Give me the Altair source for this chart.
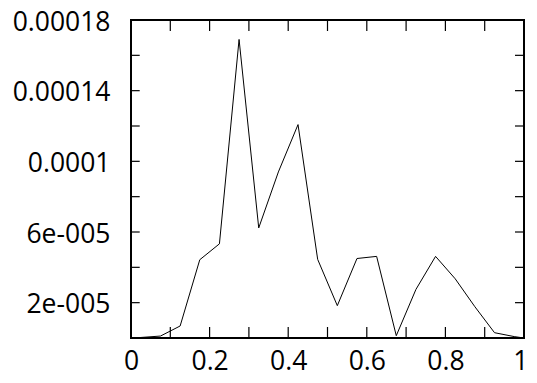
import altair as alt
import pandas as pd

# data
x_vals = [0.0, 0.025, 0.075, 0.125, 0.175, 0.225, 0.275, 0.325, 0.375, 0.425, 0.475,
          0.525, 0.575, 0.625, 0.675, 0.725, 0.775, 0.825, 0.875, 0.925, 0.975, 1.0]
y_vals = [0.0, 3e-7, 1.1e-6, 6.8e-6, 4.43e-5, 5.33e-5, 1.69e-4, 6.23e-5, 9.4e-5, 1.208e-4, 4.45e-5,
          1.83e-5, 4.5e-5, 4.62e-5, 1.3e-6, 2.75e-5, 4.62e-5, 3.35e-5, 1.77e-5, 3.0e-6, 8e-7, 0.0]

x_label_values = [0, 0.2, 0.4, 0.6, 0.8, 1]
x_label_texts = ["0", "0.2", "0.4", "0.6", "0.8", "1"]
x_tick_values = [0.1, 0.2, 0.3, 0.4, 0.5, 0.6, 0.7, 0.8, 0.9]

y_label_values = [2e-5, 6e-5, 1e-4, 1.4e-4, 1.8e-4]
y_label_texts = ["2e-005", "6e-005", "0.0001", "0.00014", "0.00018"]
y_tick_values = [2e-5, 4e-5, 6e-5, 8e-5, 1e-4, 1.2e-4, 1.4e-4, 1.6e-4]

W, H = 393, 318
FONT = "Open Sans"
FS = 26.5

df = pd.DataFrame({"x": x_vals, "y": y_vals})
xt = pd.DataFrame({"t": x_tick_values})
yt = pd.DataFrame({"t": y_tick_values})


def label_expr(values, texts):
    expr = "''"
    for v, t in reversed(list(zip(values, texts))):
        expr = f"abs(datum.value - {v}) < {abs(v) * 1e-6 + 1e-12} ? '{t}' : {expr}"
    return expr


xscale = alt.Scale(domain=[0, 1], nice=False, zero=False)
yscale = alt.Scale(domain=[0, 0.00018], nice=False, zero=True)

line = alt.Chart(df).mark_line(color="black", strokeWidth=1).encode(
    x=alt.X("x:Q", scale=xscale, title=None,
            axis=alt.Axis(values=x_label_values, labelExpr=label_expr(x_label_values, x_label_texts),
                          ticks=False, domain=False, grid=False, labelFont=FONT, labelFontSize=FS,
                          labelColor="black", labelPadding=10.5, labelFlush=False, labelOverlap=False,
                          labelAlign={"condition": {"test": "datum.value >= 1", "value": "right"},
                                      "value": "center"},
                          labelOffset={"condition": {"test": "datum.value >= 1", "value": 4},
                                       "value": 0})),
    y=alt.Y("y:Q", scale=yscale, title=None,
            axis=alt.Axis(values=y_label_values, labelExpr=label_expr(y_label_values, y_label_texts),
                          ticks=False, domain=False, grid=False, labelFont=FONT, labelFontSize=FS,
                          labelColor="black", labelPadding=21, labelOffset=2,
                          labelFlush=False, labelOverlap=False)),
)

ytl = alt.Chart(yt).mark_rule(color="black", strokeWidth=1.2).encode(
    y=alt.Y("t:Q", scale=yscale), x=alt.value(0), x2=alt.value(8.7))
ytr = alt.Chart(yt).mark_rule(color="black", strokeWidth=1.2).encode(
    y=alt.Y("t:Q", scale=yscale), x=alt.value(W - 9), x2=alt.value(W))
xtb = alt.Chart(xt).mark_rule(color="black", strokeWidth=1.2).encode(
    x=alt.X("t:Q", scale=xscale), y=alt.value(H - 11), y2=alt.value(H))
xtt = alt.Chart(xt).mark_rule(color="black", strokeWidth=1.2).encode(
    x=alt.X("t:Q", scale=xscale), y=alt.value(0), y2=alt.value(11))

chart = alt.layer(line, ytl, ytr, xtb, xtt).properties(
    width=W, height=H,
    background="white",
    autosize=alt.AutoSizeParams(type="none"),
    padding={"left": 123, "top": 12, "right": 5, "bottom": 40},
).configure_view(stroke="black", strokeWidth=2)

chart.save("out.html", embed_options={"renderer": "svg", "actions": False})
